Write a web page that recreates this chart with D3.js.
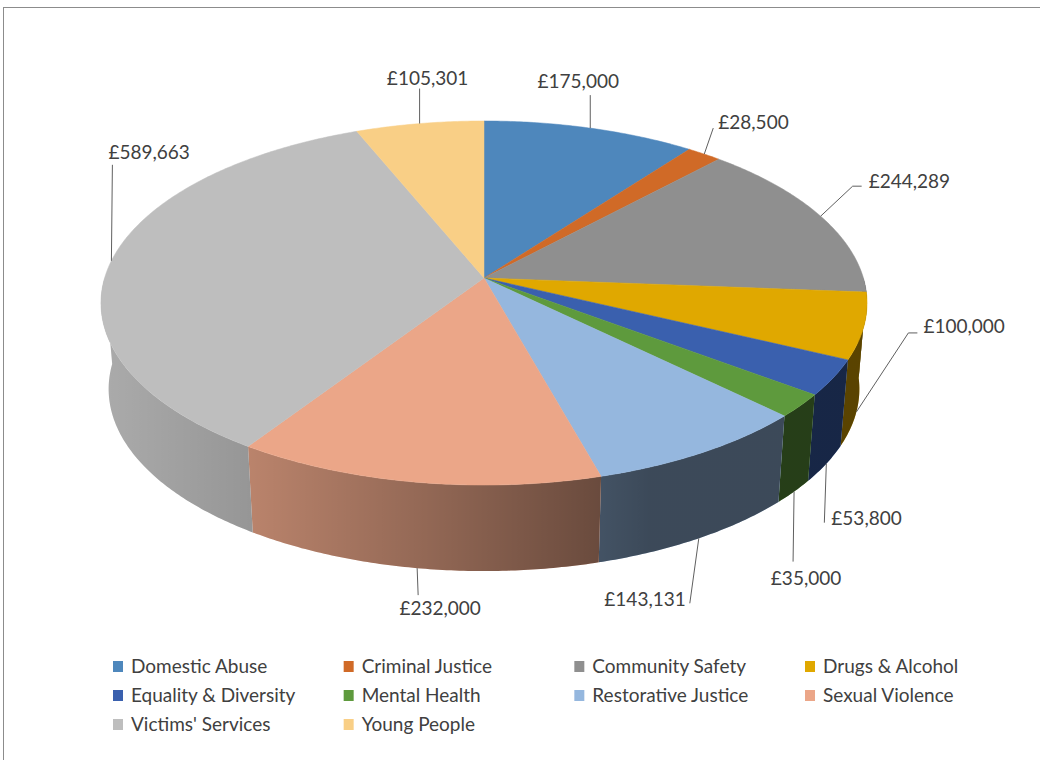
<!DOCTYPE html>
<html>
<head>
<meta charset="utf-8">
<title>Funding by area</title>
<style>
  body { margin: 0; background: #fff; }
  text { font-family: Lato, "Open Sans", sans-serif; font-size: 19px; fill: #404040; }
</style>
</head>
<body>
<svg id="chart" width="1040" height="760"></svg>
<script src="https://d3js.org/d3.v7.min.js"></script>
<script>
  const categories = ['Domestic Abuse', 'Criminal Justice', 'Community Safety', 'Drugs & Alcohol',
    'Equality & Diversity', 'Mental Health', 'Restorative Justice', 'Sexual Violence',
    "Victims' Services", 'Young People']
  const amounts = [175000, 28500, 244289, 100000, 53800, 35000, 143131, 232000, 589663, 105301]
  const colors = ['#4e87bc', '#d06a27', '#8f8f8f', '#e0a800', '#3a60ae',
    '#5e9a3d', '#95b7de', '#eba688', '#bebebe', '#f9cf86']

  // where each value label sits, relative to the point where its leader touches the pie
  const labelOffsets = [
    { tx: -12, ty: -47, anchor: 'middle', lx: 0, ly: -33 },
    { tx: 14, ty: -32, anchor: 'start', lx: 9, ly: -26 },
    { tx: 48, ty: -35, anchor: 'start', lx: 32, ly: -30, tick: 9 },
    { tx: 67, ty: -86, anchor: 'start', lx: 52, ly: -79, tick: 9 },
    { tx: 5, ty: 54, anchor: 'start', lx: -2, ly: 59 },
    { tx: 12, ty: 86, anchor: 'middle', lx: -1, ly: 70 },
    { tx: -13, ty: 61, anchor: 'end', lx: -9, ly: 65 },
    { tx: 23, ty: 40, anchor: 'middle', lx: 1, ly: 27 },
    { tx: -3, ty: -109, anchor: 'start', lx: 1, ly: -96 },
    { tx: 8, ty: -46, anchor: 'middle', lx: 0, ly: -35 }
  ]

  const svg = d3.select('#chart')
  const fmt = d3.format(',')

  // 3d pie geometry (simple perspective on a tilted disc)
  const cx = 484, cy = 278
  const rx = 379.4, ry = 178.6, persp = 0.1374
  const depth = 86, shrink = 0.98

  function topPoint(a) {
    const u = Math.sin(a), v = -Math.cos(a)
    const den = 1 - persp * v
    return [cx + rx * u / den, cy + ry * v / den]
  }
  function bottomPoint(a) {
    const p = topPoint(a)
    return [cx + (p[0] - cx) * shrink, p[1] + depth]
  }
  function arcPoints(f, a0, a1) {
    const n = Math.max(2, Math.ceil((a1 - a0) / 0.01))
    return d3.range(n + 1).map(i => f(a0 + (a1 - a0) * i / n))
  }

  const pie = d3.pie().sort(null).value(d => d)
  const arcs = pie(amounts)
  const line = d3.line()

  svg.append('rect')
    .attr('x', 3.5).attr('y', 7.5)
    .attr('width', 1100).attr('height', 800)
    .attr('fill', 'none').attr('stroke', '#8c8c8c')

  const defs = svg.append('defs')
  const shade = defs.append('linearGradient')
    .attr('id', 'shade')
    .attr('gradientUnits', 'userSpaceOnUse')
    .attr('x1', 100).attr('x2', 870).attr('y1', 0).attr('y2', 0)
  ;[[100, 0.1], [250, 0.21], [420, 0.37], [600, 0.55], [650, 0.6], [870, 0.6]].forEach(s => {
    shade.append('stop')
      .attr('offset', (s[0] - 100) / 770)
      .attr('stop-color', '#000')
      .attr('stop-opacity', s[1])
  })

  // side walls, only the front half is seen
  const sides = svg.append('g')
  arcs.forEach((d, i) => {
    const a0 = Math.max(d.startAngle, Math.PI / 2)
    const a1 = Math.min(d.endAngle, Math.PI * 1.5)
    if (a1 <= a0) return
    const pts = arcPoints(topPoint, a0, a1).concat(arcPoints(bottomPoint, a0, a1).reverse())
    const path = line(pts) + 'Z'
    sides.append('path').attr('d', path).attr('fill', colors[i])
    sides.append('path').attr('d', path).attr('fill', 'url(#shade)')
  })

  // top face
  const tops = svg.append('g')
  arcs.forEach((d, i) => {
    const pts = [[cx, cy]].concat(arcPoints(topPoint, d.startAngle, d.endAngle))
    tops.append('path')
      .attr('d', line(pts) + 'Z')
      .attr('fill', colors[i])
      .attr('stroke', colors[i])
      .attr('stroke-width', 0.5)
  })

  // value labels with leader lines
  const labels = svg.append('g')
  arcs.forEach((d, i) => {
    const mid = (d.startAngle + d.endAngle) / 2
    const front = -Math.cos(mid) > 0
    const p = front ? bottomPoint(mid) : topPoint(mid)
    const o = labelOffsets[i]
    const end = [p[0] + o.lx, p[1] + o.ly]
    const pts = [p, end]
    if (o.tick) pts.push([end[0] + o.tick, end[1]])
    labels.append('path')
      .attr('d', line(pts))
      .attr('fill', 'none')
      .attr('stroke', '#5f5f5f')
      .attr('stroke-width', 1)
    labels.append('text')
      .attr('x', p[0] + o.tx)
      .attr('y', p[1] + o.ty + 7)
      .attr('text-anchor', o.anchor)
      .text('£' + fmt(amounts[i]))
  })

  // legend
  const colX = d3.scalePoint().domain(d3.range(4)).range([113, 805])
  const rowY = d3.scalePoint().domain(d3.range(3)).range([666, 724])
  const legend = svg.append('g')
    .selectAll('g')
    .data(categories)
    .join('g')
    .attr('transform', (d, i) => `translate(${colX(i % 4)}, ${rowY(Math.floor(i / 4))})`)
  legend.append('rect')
    .attr('x', 0).attr('y', -5)
    .attr('width', 10).attr('height', 11)
    .attr('fill', (d, i) => colors[i])
  legend.append('text')
    .attr('x', 18).attr('y', 7)
    .text(d => d)
</script>
</body>
</html>
